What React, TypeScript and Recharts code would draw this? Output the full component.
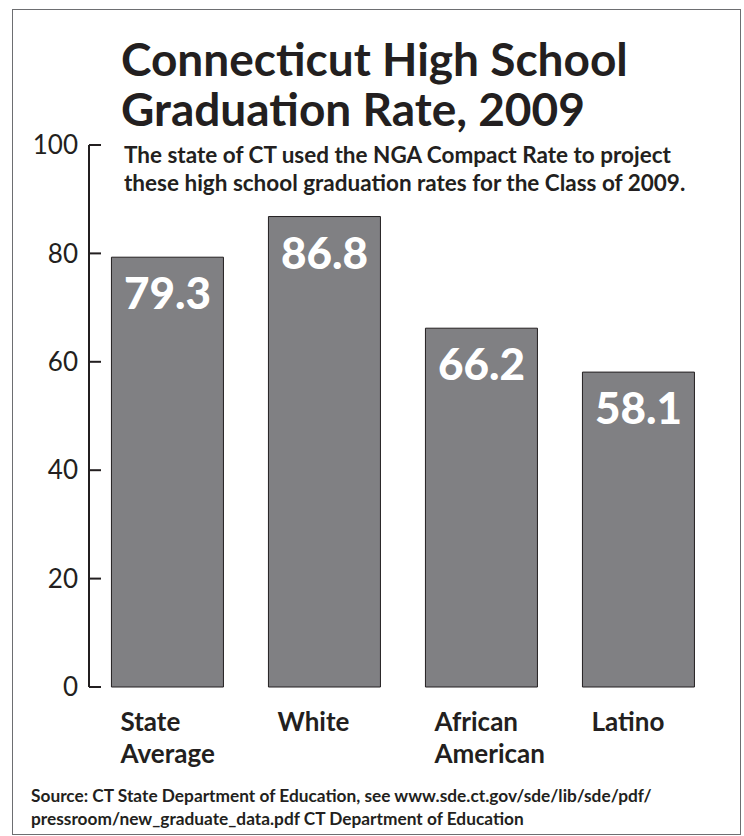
// Connecticut high school graduation rates, Class of 2009.
import { BarChart, Bar, XAxis, YAxis, LabelList } from "recharts";

const groups = ["State Average", "White", "African American", "Latino"];
const rates = [79.3, 86.8, 66.2, 58.1];
const yTicks = [0, 20, 40, 60, 80, 100];
const edgeTicks = [0, 1, 2, 3, 4];

const data = groups.map((g, i) => ({ group: g, rate: rates[i] }));

const INK = "#231f20";
const FONT = "Lato, 'Open Sans', sans-serif";

function GroupTick(props: any) {
  const { x, y, payload } = props;
  const lines = String(payload.value).split(" ");
  return (
    <text
      x={x - 47}
      y={y + 36}
      fill={INK}
      fontFamily={FONT}
      fontWeight={700}
      fontSize={26}
      textAnchor="start"
    >
      {lines.map((l, i) => (
        <tspan key={i} x={x - 47} dy={i === 0 ? 0 : 32}>
          {l}
        </tspan>
      ))}
    </text>
  );
}

function ValueLabel(props: any) {
  const { x, y, width, value } = props;
  return (
    <text
      x={x + width / 2}
      y={y + 52}
      fill="#ffffff"
      fontFamily={FONT}
      fontWeight={900}
      fontSize={44}
      textAnchor="middle"
    >
      {value}
    </text>
  );
}

export default function App() {
  return (
    <div
      style={{
        position: "absolute",
        left: 0,
        top: 0,
        width: 744,
        height: 836,
        background: "#fff",
        fontFamily: FONT,
        color: INK,
      }}
    >
      <div
        style={{
          position: "absolute",
          left: 12,
          top: 9,
          width: 727,
          height: 824,
          border: "1px solid #6d6e71",
        }}
      />
      <div
        style={{
          position: "absolute",
          left: 121,
          top: 34,
          fontSize: 46,
          fontWeight: 700,
          lineHeight: "50px",
          whiteSpace: "nowrap",
        }}
      >
        Connecticut High School
        <br />
        Graduation Rate, 2009
      </div>
      <div
        style={{
          position: "absolute",
          left: 124,
          top: 141,
          fontSize: 22.5,
          fontWeight: 700,
          lineHeight: "28px",
          whiteSpace: "nowrap",
        }}
      >
        The state of CT used the NGA Compact Rate to project
        <br />
        these high school graduation rates for the Class of 2009.
      </div>
      <div
        style={{
          position: "absolute",
          left: 31,
          top: 784,
          fontSize: 17.3,
          fontWeight: 700,
          lineHeight: "23px",
          whiteSpace: "nowrap",
        }}
      >
        Source: CT State Department of Education, see www.sde.ct.gov/sde/lib/sde/pdf/
        <br />
        pressroom/new_graduate_data.pdf CT Department of Education
      </div>
      <div style={{ position: "absolute", left: 0, top: 0 }}>
        <BarChart
          width={744}
          height={836}
          data={data}
          margin={{ top: 145, right: 27, left: 29, bottom: 49 }}
          barCategoryGap="14.3%"
        >
          <XAxis
            xAxisId="edges"
            type="number"
            domain={[0, 4]}
            ticks={edgeTicks}
            allowDataOverflow
            height={0}
            tickSize={-13}
            tick={() => null}
            axisLine={{ stroke: INK, strokeWidth: 2 }}
            tickLine={{ stroke: INK, strokeWidth: 2 }}
          />
          <XAxis
            xAxisId="cat"
            dataKey="group"
            height={100}
            axisLine={false}
            tickLine={false}
            interval={0}
            tick={<GroupTick />}
          />
          <YAxis
            domain={[0, 100]}
            ticks={yTicks}
            width={60}
            tickSize={-12}
            tickMargin={23}
            axisLine={{ stroke: INK, strokeWidth: 2 }}
            tickLine={{ stroke: INK, strokeWidth: 2 }}
            tick={{ fill: INK, fontFamily: FONT, fontSize: 26, fontWeight: 400 }}
          />
          <Bar
            xAxisId="cat"
            dataKey="rate"
            fill="#808083"
            stroke={INK}
            strokeWidth={1}
            isAnimationActive={false}
          >
            <LabelList dataKey="rate" content={<ValueLabel />} />
          </Bar>
        </BarChart>
      </div>
    </div>
  );
}
